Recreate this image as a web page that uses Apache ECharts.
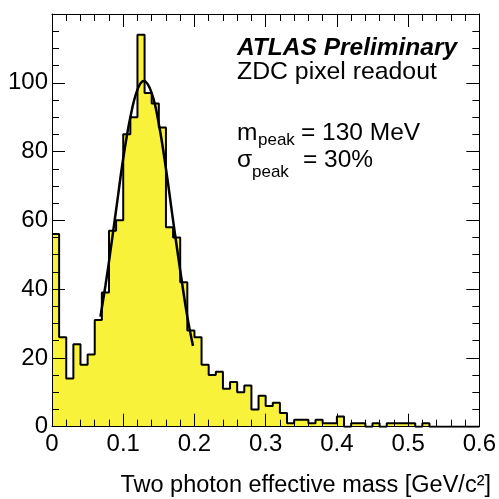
<!DOCTYPE html>
<html>
<head>
<meta charset="utf-8">
<script src="https://cdn.jsdelivr.net/npm/echarts/dist/echarts.min.js"></script>
<style>
html,body{margin:0;padding:0;background:#fff;}
#c{width:499px;height:499px;}
</style>
</head>
<body>
<div id="c"></div>
<script>
// ---- data ----
const binLow = 0;
const binWidth = 0.01;
const counts = [56,26,14,24,18,21,31,39,57,60,
                85,90,114,97,94,87,58,55,42,28,
                26,18,15,16,11,13,10,12,5,9,
                6,7,4,1,2,2,1,2,1,1,
                3,0,1,1,0,1,0,1,1,1,
                1,0,1,0,0,0,0,0,0,0];
const fitX = [0.068,0.075,0.08,0.09,0.10,0.11,0.12,0.129,0.14,0.15,0.16,0.17,0.18,0.19,0.198];
const fitY = [32,41,48,63,78,90,98,100.5,97,88,75,60,45.5,32,23.5];
const xRange = [0, 0.6];
const yRange = [0, 120];
const xStep = 0.1;
const yStep = 20;

// ---- build ----
const histPts = counts.map((c, i) => [binLow + i * binWidth, c]);
histPts.push([binLow + counts.length * binWidth, counts[counts.length - 1]]);
const fitPts = fitX.map((x, i) => [x, fitY[i]]);

const FONT = '"Liberation Sans", Arial, Helvetica, sans-serif';
const chart = echarts.init(document.getElementById('c'), null, {renderer: 'canvas'});

const axisCommon = {
  axisLine: {show: true, onZero: false, lineStyle: {color: '#000', width: 1}},
  splitLine: {show: false},
  z: 10
};

chart.setOption({
  animation: false,
  backgroundColor: '#fff',
  grid: {left: 52, top: 14, width: 429.5, height: 412.7},
  xAxis: [
    Object.assign({}, axisCommon, {
      type: 'value', min: xRange[0], max: xRange[1], interval: xStep, position: 'bottom',
      axisTick: {show: true, inside: true, length: 13, lineStyle: {color: '#000'}},
      minorTick: {show: true, splitNumber: 5, length: 7, lineStyle: {color: '#000'}},
      axisLabel: {show: true, color: '#000', fontSize: 24, fontFamily: FONT, margin: 6}
    }),
    Object.assign({}, axisCommon, {
      type: 'value', min: xRange[0], max: xRange[1], interval: xStep, position: 'top',
      axisTick: {show: true, inside: true, length: 13, lineStyle: {color: '#000'}},
      minorTick: {show: true, splitNumber: 5, length: 7, lineStyle: {color: '#000'}},
      axisLabel: {show: false}
    })
  ],
  yAxis: [
    Object.assign({}, axisCommon, {
      type: 'value', min: yRange[0], max: yRange[1], interval: yStep, position: 'left',
      axisTick: {show: true, inside: true, length: 13, lineStyle: {color: '#000'}},
      minorTick: {show: true, splitNumber: 4, length: 7, lineStyle: {color: '#000'}},
      axisLabel: {show: true, showMaxLabel: false, color: '#000', fontSize: 24, fontFamily: FONT, margin: 4}
    }),
    Object.assign({}, axisCommon, {
      type: 'value', min: yRange[0], max: yRange[1], interval: yStep, position: 'right',
      axisTick: {show: true, inside: true, length: 13, lineStyle: {color: '#000'}},
      minorTick: {show: true, splitNumber: 4, length: 7, lineStyle: {color: '#000'}},
      axisLabel: {show: false}
    })
  ],
  series: [
    {
      type: 'line', xAxisIndex: 0, yAxisIndex: 0, step: 'end',
      data: histPts, showSymbol: false, symbol: 'none',
      lineStyle: {color: '#000', width: 2},
      areaStyle: {color: '#f8f23a', opacity: 1, origin: 'start'},
      z: 2
    },
    {
      type: 'line', xAxisIndex: 0, yAxisIndex: 0, smooth: 0.4,
      data: fitPts, showSymbol: false, symbol: 'none',
      lineStyle: {color: '#000', width: 2.5},
      z: 3
    }
  ],
  graphic: [
    {type: 'text', x: 237, y: 48, z: 20, style: {text: 'ATLAS Preliminary', font: 'italic bold 24.5px ' + FONT, fill: '#000', verticalAlign: 'middle'}},
    {type: 'text', x: 237, y: 72, z: 20, style: {text: 'ZDC pixel readout', font: '24.8px ' + FONT, fill: '#000', verticalAlign: 'middle'}},
    {type: 'text', x: 237, y: 133, z: 20, style: {text: 'm', font: '24.5px ' + FONT, fill: '#000', verticalAlign: 'middle'}},
    {type: 'text', x: 258, y: 140, z: 20, style: {text: 'peak', font: '17px ' + FONT, fill: '#000', verticalAlign: 'middle'}},
    {type: 'text', x: 301, y: 133, z: 20, style: {text: '= 130 MeV', font: '24.5px ' + FONT, fill: '#000', verticalAlign: 'middle'}},
    {type: 'text', x: 237, y: 160, z: 20, style: {text: 'σ', font: '24.5px ' + FONT, fill: '#000', verticalAlign: 'middle'}},
    {type: 'text', x: 252, y: 172, z: 20, style: {text: 'peak', font: '17px ' + FONT, fill: '#000', verticalAlign: 'middle'}},
    {type: 'text', x: 303, y: 160, z: 20, style: {text: '= 30%', font: '24.5px ' + FONT, fill: '#000', verticalAlign: 'middle'}},
    {type: 'text', x: 491, y: 485.5, z: 20, style: {text: 'Two photon effective mass [GeV/c²]', font: '23.5px ' + FONT, fill: '#000', verticalAlign: 'middle', align: 'right'}}
  ]
});
</script>
</body>
</html>
